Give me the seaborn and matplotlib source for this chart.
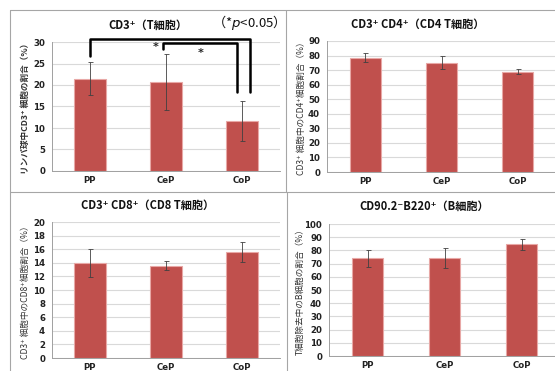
import numpy as np
import pandas as pd
import seaborn as sns
import matplotlib.pyplot as plt
from matplotlib.lines import Line2D

groups = ['PP', 'CeP', 'CoP']

t_mean = [21.5, 20.8, 11.6]
t_err = [3.8, 6.5, 4.7]
cd4_mean = [78.5, 75.0, 69.0]
cd4_err = [3.0, 4.5, 1.7]
cd8_mean = [14.0, 13.6, 15.6]
cd8_err = [2.1, 0.7, 1.5]
b_mean = [74.0, 74.5, 84.5]
b_err = [6.5, 7.5, 4.5]

titles = ['CD3⁺（T細胞）', 'CD3⁺ CD4⁺（CD4 T細胞）',
          'CD3⁺ CD8⁺（CD8 T細胞）', 'CD90.2⁻B220⁺（B細胞）']
ylabels = ['リンパ球中CD3⁺ 細胞の割合（%）', 'CD3⁺ 細胞中のCD4⁺細胞割合（%）',
           'CD3⁺ 細胞中のCD8⁺細胞割合（%）', 'T細胞除去中のB細胞の割合（%）']
ylims = [30, 90, 20, 100]
ysteps = [5, 10, 2, 10]

sns.set_theme(style="white")
plt.rcParams['font.family'] = ['Noto Sans CJK JP', 'DejaVu Sans']

W, H = 555, 371
fig = plt.figure(figsize=(W / 100, H / 100), dpi=100)

def px(x0, y0, x1, y1):
    # pixel box -> figure fraction rect
    return [x0 / W, 1 - y1 / H, (x1 - x0) / W, (y1 - y0) / H]

boxes = [px(52, 42, 280, 171), px(327, 41, 556, 172),
         px(52, 222, 280, 358), px(329, 224, 560, 356)]
means = [t_mean, cd4_mean, cd8_mean, b_mean]
errs = [t_err, cd4_err, cd8_err, b_err]
title_pos = [(148, 25), (418, 24), (148, 205), (424, 206)]
ylab_x = [25, 301, 25, 300]

axes = []
for i in range(4):
    ax = fig.add_axes(boxes[i])
    df = pd.DataFrame({'group': groups, 'value': means[i]})
    sns.barplot(data=df, x='group', y='value', color='#C0504D', saturation=1,
                width=0.41, edgecolor='#E8A8A6', linewidth=0.8, ax=ax, zorder=3)
    ax.errorbar(range(3), means[i], yerr=errs[i], fmt='none', ecolor='#404040',
                elinewidth=0.6, capsize=1.8, capthick=0.6, zorder=4)
    ax.set_xlim(-0.5, 2.5)
    ax.set_ylim(0, ylims[i])
    ax.set_yticks(np.arange(0, ylims[i] + 0.1, ysteps[i]))
    ax.yaxis.grid(True, color='#D9D9D9', linewidth=0.8, zorder=0)
    ax.set_axisbelow(True)
    ax.set_xticks([-0.5, 0.5, 1.5, 2.5], minor=True)
    ax.tick_params(axis='x', which='major', length=0, pad=3.5)
    ax.tick_params(axis='x', which='minor', length=3, color='#A0A0A0', width=0.6)
    ax.tick_params(axis='y', length=3, color='#A0A0A0', width=0.6, pad=2)
    for lab in ax.get_xticklabels() + ax.get_yticklabels():
        lab.set_fontsize(6.2)
        lab.set_fontweight('bold')
        lab.set_family('DejaVu Sans')
        lab.set_color('#222222')
    for s in ['top', 'right']:
        ax.spines[s].set_visible(False)
    for s in ['left', 'bottom']:
        ax.spines[s].set_color('#A0A0A0')
        ax.spines[s].set_linewidth(0.7)
    ax.set_xlabel('')
    ax.set_ylabel('')
    cy = boxes[i][1] + boxes[i][3] / 2
    fig.text(ylab_x[i] / W, cy, ylabels[i], rotation=90, ha='center', va='center',
             fontsize=6.2, color='#333333',
             fontweight='bold' if i == 0 else 'normal')
    tx, ty = title_pos[i]
    fig.text(tx / W, 1 - ty / H, titles[i], ha='center', va='center',
             fontsize=8, fontweight='bold', color='#111111')
    axes.append(ax)

fig.text(245 / W, 1 - 22 / H, '（*$p$<0.05）', ha='center', va='center',
         fontsize=9.5, style='italic', color='#111111')

# significance brackets on the T cell panel
ax = axes[0]
ax.plot([0, 0, 2.1, 2.1], [26.7, 30.8, 30.8, 18.4], color='black', lw=1.8,
        clip_on=False, zorder=5)
ax.plot([0.96, 0.96, 1.93, 1.93], [28.4, 29.8, 29.8, 18.4], color='black',
        lw=1.8, clip_on=False, zorder=5)
ax.text(0.86, 28.9, '*', ha='center', va='center', fontsize=8, fontweight='bold',
        family='DejaVu Sans')
ax.text(1.45, 27.5, '*', ha='center', va='center', fontsize=8, fontweight='bold',
        family='DejaVu Sans')

# panel frames
lc = '#A6A6A6'
for xs, ys in [([10, 555], [10, 10]), ([10, 10], [10, 371]),
               ([10, 555], [192, 192]), ([285.5, 285.5], [10, 192]),
               ([287, 287], [192, 371])]:
    fig.add_artist(Line2D([x / W for x in xs], [1 - y / H for y in ys],
                          color=lc, lw=0.8))

fig.savefig('out.png', dpi=100)
